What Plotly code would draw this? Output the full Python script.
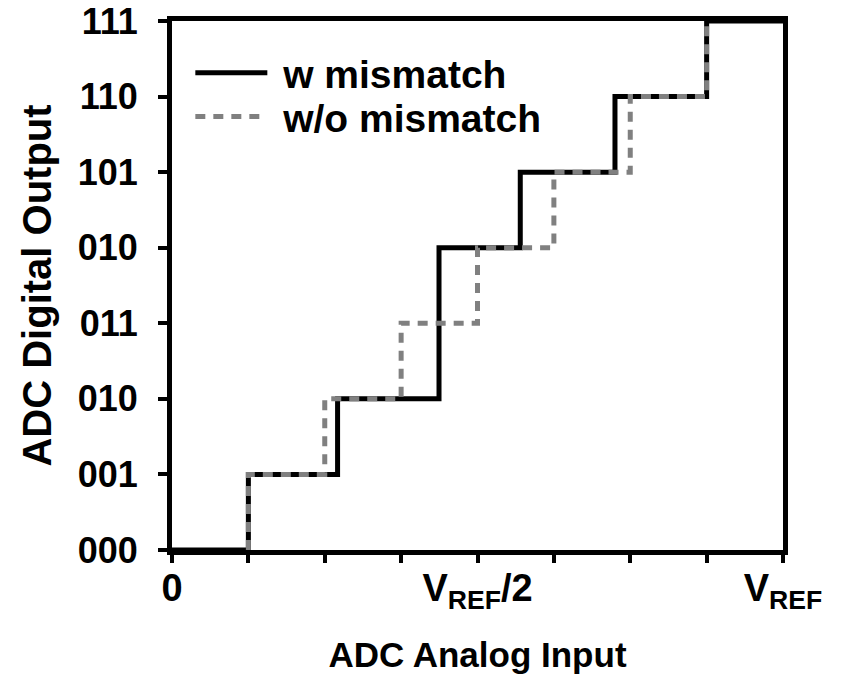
import plotly.graph_objects as go

# ---- data ----
x_ticks = [0, 0.125, 0.25, 0.375, 0.5, 0.625, 0.75, 0.875, 1.0]
x_ticklabels = ["0", "", "", "", "V<sub>REF</sub>/2", "", "", "", "V<sub>REF</sub>"]
y_ticks = [0, 1, 2, 3, 4, 5, 6, 7]
y_ticklabels = ["000", "001", "010", "011", "010", "101", "110", "111"]

# step thresholds (fraction of VREF) and code level reached after each threshold
w_thresholds = [0.125, 0.271, 0.437, 0.570, 0.725, 0.875]
w_levels = [1, 2, 4, 5, 6, 7]
wo_thresholds = [0.125, 0.25, 0.375, 0.5, 0.625, 0.75, 0.875]
wo_levels = [1, 2, 3, 4, 5, 6, 7]


def vh_points(thresholds, levels, start=None, end=None):
    xs, ys = [], []
    prev = 0
    if start is not None:
        xs.append(start); ys.append(0)
    for t, lv in zip(thresholds, levels):
        xs.append(t); ys.append(prev)
        prev = lv
    xs.append(thresholds[-1]); ys.append(levels[-1])
    if end is not None:
        xs.append(end); ys.append(levels[-1])
    return xs, ys


xw, yw = vh_points(w_thresholds, w_levels, start=0, end=1.0)
xwo, ywo = vh_points(wo_thresholds, wo_levels)

FONT = "Arial, 'Liberation Sans', sans-serif"
LEGFONT = dict(size=39, family=FONT, weight="bold", color="black")
NB = "\u00a0"

fig = go.Figure()
fig.add_trace(go.Scatter(x=xw, y=yw, mode="lines", line_shape="vh",
                         name=NB + "w mismatch", legend="legend",
                         line=dict(color="black", width=5)))
fig.add_trace(go.Scatter(x=xwo, y=ywo, mode="lines", line_shape="vh",
                         name=NB + "w/o mismatch", legend="legend2",
                         line=dict(color="#808080", width=5, dash="10px,8px")))

fig.update_layout(
    template="none",
    width=842, height=674,
    margin=dict(l=172, r=59, t=21, b=124, autoexpand=False),
    plot_bgcolor="white", paper_bgcolor="white",
    font=dict(family=FONT, color="black", size=36, weight="bold"),
    showlegend=True,
    legend=dict(x=0.03, y=0.902, xanchor="left", yanchor="middle",
                bgcolor="rgba(0,0,0,0)", itemwidth=72, font=LEGFONT),
    legend2=dict(x=0.03, y=0.819, xanchor="left", yanchor="middle",
                 bgcolor="rgba(0,0,0,0)", itemwidth=72, font=LEGFONT),
)
fig.update_xaxes(
    automargin=False,
    range=[0, 1], tickvals=x_ticks, ticktext=x_ticklabels,
    showgrid=False, zeroline=False,
    showline=True, linewidth=5, linecolor="black", mirror=True,
    ticks="outside", ticklen=0, tickwidth=4, tickcolor="black",
    minor=dict(tickvals=x_ticks, ticks="outside", ticklen=8, tickwidth=4,
               tickcolor="black", showgrid=False),
    tickfont=dict(size=38, family=FONT, weight="bold", color="black"),
    ticklabelstandoff=0, ticklabeloverflow="allow",
    title=dict(text="ADC Analog Input", standoff=36,
               font=dict(size=35, family=FONT, weight="bold", color="black")),
)
fig.update_yaxes(
    automargin=False,
    range=[0, 7], tickvals=y_ticks, ticktext=y_ticklabels,
    showgrid=False, zeroline=False,
    showline=True, linewidth=5, linecolor="black", mirror=True,
    ticks="outside", ticklen=9, tickwidth=4, tickcolor="black",
    tickfont=dict(size=36, family=FONT, weight="bold", color="black"),
    ticklabelstandoff=13, ticklabeloverflow="allow",
    title=dict(text="ADC Digital Output", standoff=15,
               font=dict(size=40, family=FONT, weight="bold", color="black")),
)

fig.write_html("out.html",
               config={"displayModeBar": False},
               post_script="document.body.style.margin='0px';"
                           "document.body.style.overflow='hidden';")
